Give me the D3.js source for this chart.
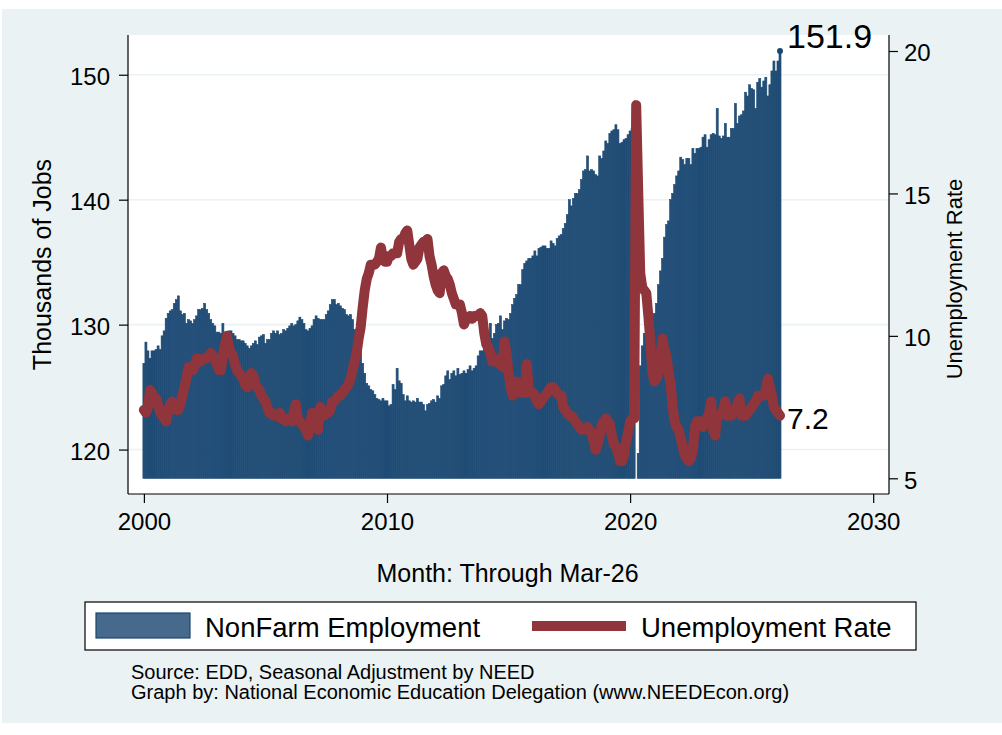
<!DOCTYPE html>
<html>
<head>
<meta charset="utf-8">
<script src="https://cdn.jsdelivr.net/npm/d3@7"></script>
<style>
html,body{margin:0;padding:0;background:#ffffff;}
svg{display:block;font-family:"Liberation Sans",Arial,Helvetica,sans-serif;}
</style>
</head>
<body>
<svg id="chart" width="1002" height="735"></svg>
<script>
// ---- data (monthly, Jan 2000 .. Mar 2026) ----
const startYear = 2000;
const employment = [
126.9,128.6,127.9,127.3,127.9,127.9,128.0,128.3,128.0,129.1,129.5,130.5,
130.9,131.1,131.2,131.7,132.0,132.3,131.1,130.8,130.9,130.1,130.4,130.3,
130.1,130.4,130.7,131.2,131.2,131.3,131.7,131.2,130.9,130.4,130.1,129.9,
129.4,129.4,129.3,130.1,129.3,129.2,129.5,129.5,129.3,129.1,128.8,128.8,
128.7,128.7,128.5,128.3,128.1,128.3,128.5,128.7,128.4,129.0,129.1,129.2,
128.5,128.8,128.8,129.3,129.5,129.3,129.5,129.2,129.3,129.6,129.5,129.7,
129.9,130.1,129.9,130.0,130.3,130.6,130.4,130.1,129.6,129.5,129.7,129.9,
130.4,130.7,130.5,130.4,130.4,130.4,130.8,131.1,131.6,132.0,132.0,131.6,
131.7,131.5,131.3,131.2,130.8,130.7,130.8,130.4,129.6,129.2,128.8,127.9,
126.9,126.1,125.3,125.1,124.8,124.7,124.4,124.1,124.0,123.9,124.1,123.9,
123.9,123.5,123.6,125.2,124.8,126.5,125.5,125.3,124.4,123.9,124.3,123.9,
123.8,123.9,123.8,124.1,123.8,123.8,123.6,123.1,123.6,123.7,123.9,124.0,
123.8,124.3,124.1,125.1,125.2,125.9,126.3,125.6,126.1,126.3,125.9,126.5,
126.0,126.1,126.3,126.1,126.4,126.7,126.3,126.5,126.7,127.5,127.9,127.9,
128.3,128.1,129.3,130.1,128.9,129.3,130.0,130.1,130.7,129.6,130.3,130.5,
130.4,130.9,131.6,132.1,132.4,133.2,133.2,134.4,134.9,135.1,135.3,135.3,
135.5,135.9,135.5,136.1,136.2,136.3,136.3,136.1,136.1,136.7,136.5,136.3,
136.9,137.1,137.2,137.7,138.1,138.8,140.0,139.5,140.1,140.5,140.5,140.8,
141.6,142.3,142.4,143.5,142.3,142.4,142.3,142.0,141.9,143.5,143.3,143.9,
144.7,144.5,145.3,145.5,145.6,146.0,145.6,144.5,144.6,144.8,144.9,145.2,
145.5,145.7,145.9,117.7,119.7,126.7,128.3,129.3,129.6,130.4,129.6,130.7,
130.9,131.7,133.2,134.3,135.3,137.0,138.0,138.3,140.0,140.5,141.2,141.9,
142.3,143.4,143.2,142.8,143.3,143.3,142.8,144.1,143.7,144.1,144.1,144.2,
145.0,145.2,144.2,144.8,145.2,145.3,145.2,147.3,145.1,144.9,145.1,146.1,
145.0,145.0,145.7,145.7,147.7,146.1,146.7,146.8,147.1,148.6,148.3,149.2,
148.9,148.8,147.3,149.4,149.7,149.0,149.5,149.8,148.3,149.2,150.3,151.1,
150.3,151.1,151.9
];
const unemployment = [
7.4,7.3,7.5,8.1,8.0,7.7,7.8,7.6,7.3,7.2,7.1,7.0,
7.4,7.6,7.7,7.5,7.4,7.4,7.6,7.9,8.2,8.5,8.9,8.9,
8.8,8.9,9.2,9.2,9.1,9.2,9.2,9.2,9.3,9.4,9.3,9.2,
9.0,8.8,8.8,9.3,9.7,10.0,9.6,9.4,9.3,9.0,8.8,8.7,
8.6,8.5,8.3,8.2,8.5,8.7,8.6,8.3,8.2,8.1,7.9,7.8,
7.7,7.5,7.3,7.3,7.2,7.2,7.2,7.3,7.1,7.1,7.0,7.1,
7.1,7.0,7.3,7.6,7.1,7.0,6.9,6.8,6.7,6.5,6.9,7.3,
7.1,6.8,6.7,7.5,7.3,7.2,7.3,7.3,7.4,7.7,7.7,7.8,
7.9,7.9,8.0,8.1,8.2,8.3,8.5,8.8,9.1,9.4,9.9,10.3,
11.0,11.6,12.0,12.2,12.5,12.5,12.5,12.6,12.7,13.1,12.7,12.6,
12.6,12.8,12.8,12.9,12.9,12.9,13.3,13.4,13.4,13.6,13.7,13.2,
12.7,12.5,12.6,12.7,13.1,13.2,13.3,13.3,13.4,12.8,12.5,12.1,
11.8,11.6,11.5,12.2,12.3,12.1,12.0,11.8,11.5,11.3,11.1,11.1,
11.1,10.8,10.4,10.6,10.6,10.7,10.6,10.7,10.7,10.7,10.8,10.7,
10.1,9.7,9.6,9.4,9.1,9.1,9.1,9.2,9.0,8.9,9.8,9.4,
8.7,8.2,7.9,8.0,8.4,8.2,8.0,8.0,8.0,9.0,8.1,8.0,
8.0,7.9,7.7,7.6,7.7,7.8,7.9,8.0,8.1,8.2,8.2,8.1,
8.0,7.9,7.9,7.5,7.4,7.3,7.2,7.2,7.1,7.0,6.9,6.8,
6.7,6.7,6.7,6.8,6.7,6.6,6.3,6.0,6.2,6.5,6.9,7.0,
7.1,7.0,6.9,6.5,6.2,6.1,5.9,5.6,5.6,5.8,6.3,6.6,
7.0,7.1,7.1,18.1,15.1,12.2,11.7,11.6,11.5,10.7,9.8,8.7,
8.4,8.5,8.7,9.3,9.9,9.5,9.3,8.7,8.3,7.5,7.0,6.8,
6.7,6.4,6.1,5.8,5.7,5.6,5.7,6.0,6.8,7.0,7.0,7.0,
6.8,7.0,7.1,7.3,7.7,6.7,6.5,7.2,7.2,7.3,7.4,7.7,
7.2,7.2,7.2,7.4,7.4,7.6,7.8,7.2,7.2,7.2,7.3,7.4,
7.5,7.6,7.7,7.9,7.9,7.9,7.9,8.1,8.5,8.2,7.9,7.5,
7.4,7.3,7.2
];
const barBase = 117.7;
const xTicks = [2000, 2010, 2020, 2030];
const leftTicks = [120, 130, 140, 150];
const rightTicks = [5, 10, 15, 20];
const seriesNames = ["NonFarm Employment", "Unemployment Rate"];
const leftTitle = "Thousands of Jobs";
const rightTitle = "Unemployment Rate";
const xTitle = "Month: Through Mar-26";
const footer = ["Source: EDD, Seasonal Adjustment by NEED",
                "Graph by: National Economic Education Delegation (www.NEEDEcon.org)"];

// ---- styles ----
const BG = "#eaf2f3", NAVY = "#1a476f", BARFILL = "#24507a", MAROON = "#90353b";

const svg = d3.select("#chart");
const frame = {l: 128, r: 889, t: 35, b: 494};

svg.append("rect").attr("x", 2).attr("y", 9).attr("width", 1000).attr("height", 714).attr("fill", BG);
svg.append("rect").attr("x", frame.l).attr("y", frame.t)
  .attr("width", frame.r - frame.l).attr("height", frame.b - frame.t).attr("fill", "#ffffff");

const x = d3.scaleLinear().domain([2000, 2030]).range([143.9, 873.2]);
const yL = d3.scaleLinear().domain([117.7, 151.9]).range([478.3, 51]);
const yR = d3.scaleLinear().domain([5, 20]).range([478.3, 51]);
const t = i => startYear + i / 12;
const bw = x(t(1)) - x(t(0));

// gridlines
svg.append("g").selectAll("line").data(leftTicks).join("line")
  .attr("x1", frame.l).attr("x2", frame.r)
  .attr("y1", d => yL(d)).attr("y2", d => yL(d))
  .attr("stroke", BG).attr("stroke-width", 1.6);

// bars
svg.append("g").selectAll("rect").data(employment).join("rect")
  .attr("x", (d, i) => x(t(i)) - bw / 2)
  .attr("width", bw)
  .attr("y", d => yL(d))
  .attr("height", d => Math.max(0, yL(barBase) - yL(d)))
  .attr("fill", BARFILL).attr("stroke", NAVY).attr("stroke-width", 0.6);

// unemployment line
const line = d3.line().x((d, i) => x(t(i))).y(d => yR(d));
svg.append("path").datum(unemployment).attr("d", line)
  .attr("fill", "none").attr("stroke", MAROON).attr("stroke-width", 10)
  .attr("stroke-linejoin", "round").attr("stroke-linecap", "round");

// last-point marker & labels
const nE = employment.length - 1, nU = unemployment.length - 1;
svg.append("circle").attr("cx", x(t(nE))).attr("cy", yL(employment[nE])).attr("r", 3).attr("fill", NAVY);
svg.append("text").attr("x", x(t(nE)) + 7).attr("y", yL(employment[nE]) - 2.7)
  .attr("font-size", 34).attr("fill", "#000").text(employment[nE].toFixed(1));
svg.append("text").attr("x", x(t(nU)) + 7).attr("y", yR(unemployment[nU]) + 13.5)
  .attr("font-size", 30).attr("fill", "#000").text(unemployment[nU].toFixed(1));

// frame axis lines
const axisLines = svg.append("g").attr("stroke", "#000").attr("stroke-width", 1.2);
axisLines.append("line").attr("x1", frame.l).attr("x2", frame.l).attr("y1", frame.t).attr("y2", frame.b);
axisLines.append("line").attr("x1", frame.r).attr("x2", frame.r).attr("y1", frame.t).attr("y2", frame.b);
axisLines.append("line").attr("x1", frame.l).attr("x2", frame.r).attr("y1", frame.b).attr("y2", frame.b);

function styleAxis(g) {
  g.select(".domain").remove();
  g.selectAll(".tick line").attr("stroke", "#000").attr("stroke-width", 1.2);
  g.selectAll(".tick text").attr("fill", "#000").attr("font-size", 24)
    .attr("font-family", '"Liberation Sans",Arial,Helvetica,sans-serif');
}
svg.append("g").attr("transform", `translate(${frame.l},0)`)
  .call(d3.axisLeft(yL).tickValues(leftTicks).tickSize(9).tickPadding(9).tickFormat(d3.format("d")))
  .call(styleAxis).call(g => g.selectAll(".tick text").attr("dy", "0.41em"));
svg.append("g").attr("transform", `translate(${frame.r},0)`)
  .call(d3.axisRight(yR).tickValues(rightTicks).tickSize(9).tickPadding(6).tickFormat(d3.format("d")))
  .call(styleAxis).call(g => g.selectAll(".tick text").attr("dy", "0.41em"));
svg.append("g").attr("transform", `translate(0,${frame.b})`)
  .call(d3.axisBottom(x).tickValues(xTicks).tickSize(9).tickPadding(10).tickFormat(d3.format("d")))
  .call(styleAxis);

// axis titles
svg.append("text").attr("transform", "translate(51,264.5) rotate(-90)")
  .attr("text-anchor", "middle").attr("font-size", 25).text(leftTitle);
svg.append("text").attr("transform", "translate(962,279) rotate(-90)")
  .attr("text-anchor", "middle").attr("font-size", 22).text(rightTitle);
svg.append("text").attr("x", 507.6).attr("y", 582)
  .attr("text-anchor", "middle").attr("font-size", 25).text(xTitle);

// legend
const lg = svg.append("g");
lg.append("rect").attr("x", 85).attr("y", 602).attr("width", 831).attr("height", 48)
  .attr("fill", "#ffffff").attr("stroke", "#000").attr("stroke-width", 1.2);
lg.append("rect").attr("x", 96).attr("y", 613).attr("width", 94).attr("height", 25)
  .attr("fill", "#46698c").attr("stroke", NAVY).attr("stroke-width", 1.2);
lg.append("text").attr("x", 205).attr("y", 637).attr("font-size", 27.5).text(seriesNames[0]);
lg.append("rect").attr("x", 532).attr("y", 621).attr("width", 94).attr("height", 10).attr("fill", MAROON);
lg.append("text").attr("x", 641).attr("y", 637).attr("font-size", 27.5).text(seriesNames[1]);

// footer
svg.append("g").selectAll("text").data(footer).join("text")
  .attr("x", 131).attr("y", (d, i) => 679 + i * 20).attr("font-size", 20).text(d => d);
</script>
</body>
</html>
